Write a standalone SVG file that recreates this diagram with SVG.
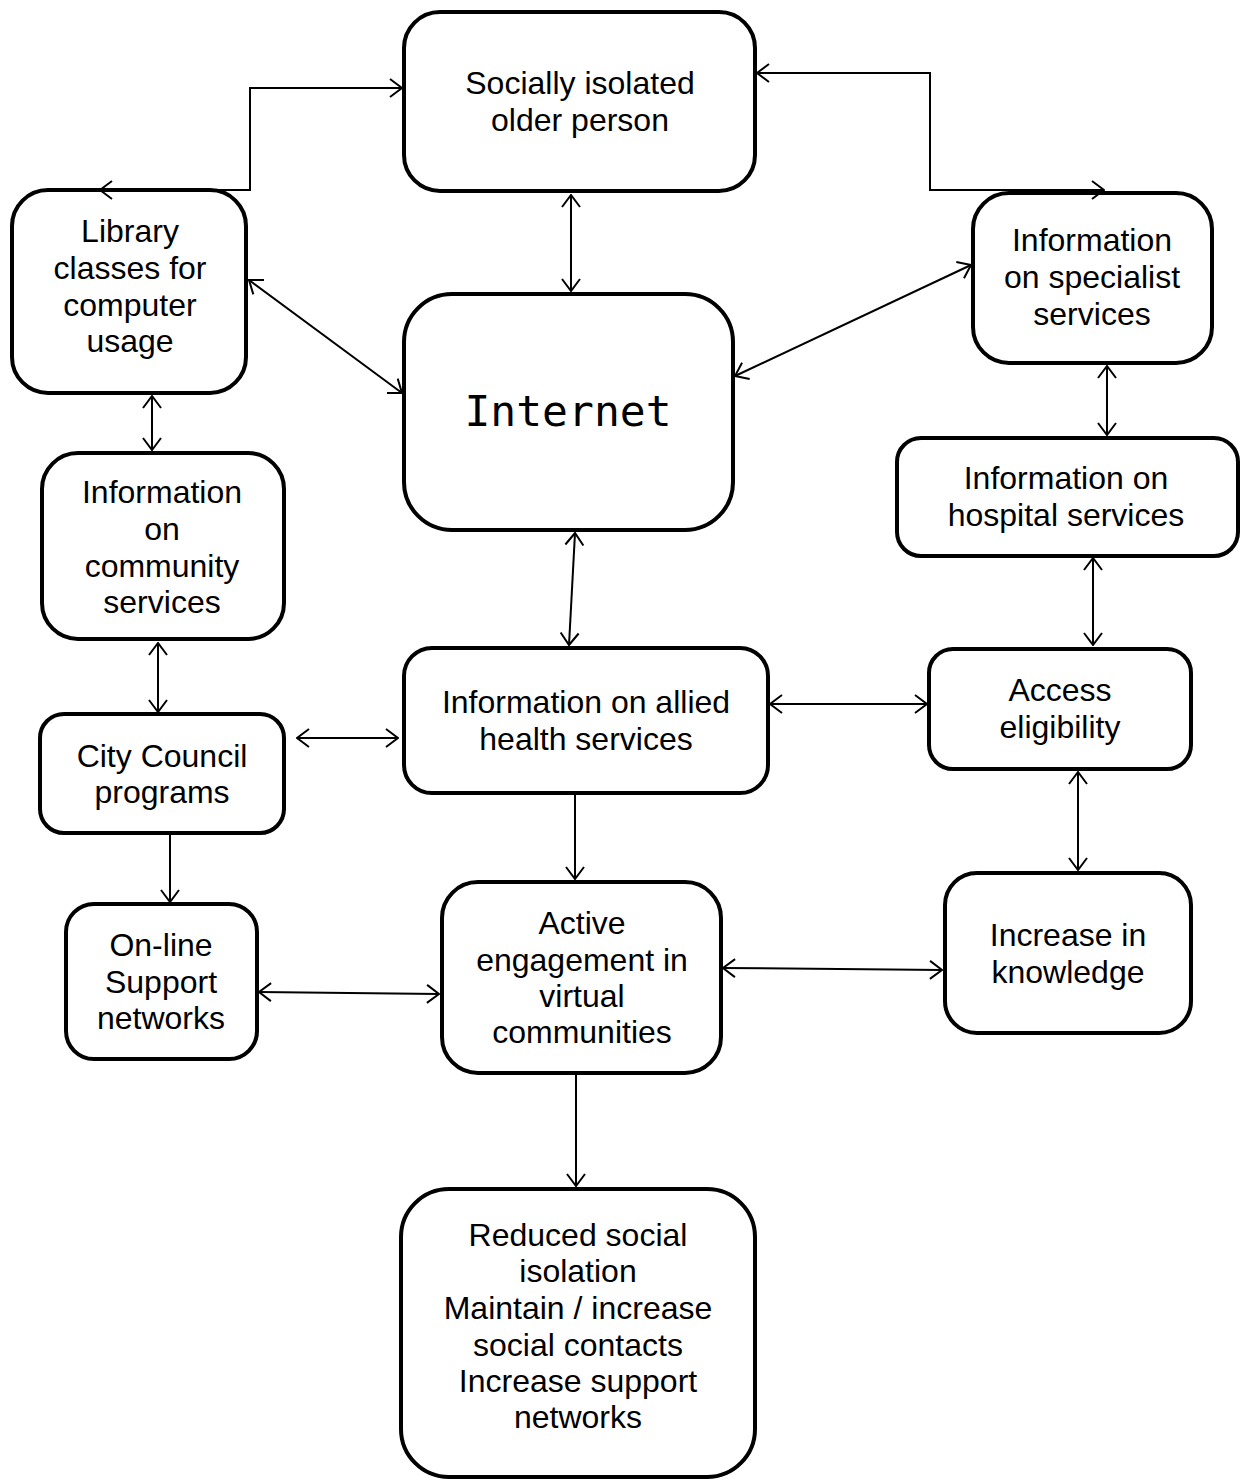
<svg xmlns="http://www.w3.org/2000/svg" width="1246" height="1481" viewBox="0 0 1246 1481">
  <style>
    .box { fill: #ffffff; stroke: #000000; stroke-width: 4; }
    .lbl { font-family: "Liberation Sans", Arial, sans-serif; font-size: 32px; fill: #000000; text-anchor: middle; }
    .mono { font-family: "DejaVu Sans Mono", "Liberation Mono", monospace; font-size: 43px; fill: #000000; text-anchor: middle; }
    .edge { fill: none; stroke: #000000; stroke-width: 2; }
    .both { marker-start: url(#tail); marker-end: url(#head); }
    .one { marker-end: url(#head); }
  </style>
  <defs>
    <marker id="head" viewBox="0 0 14 20" refX="13" refY="10" markerWidth="14" markerHeight="20" markerUnits="userSpaceOnUse" orient="auto">
      <path d="M1,1 L13,10 L1,19" fill="none" stroke="#000" stroke-width="2"/>
    </marker>
    <marker id="tail" viewBox="0 0 14 20" refX="1" refY="10" markerWidth="14" markerHeight="20" markerUnits="userSpaceOnUse" orient="auto">
      <path d="M13,1 L1,10 L13,19" fill="none" stroke="#000" stroke-width="2"/>
    </marker>
  </defs>
  <rect width="1246" height="1481" fill="#ffffff"/>

  <g id="socially-isolated">
    <rect class="box" x="404" y="12" width="351" height="179" rx="36"/>
    <text class="lbl" x="580" y="94">Socially isolated</text>
    <text class="lbl" x="580" y="131">older person</text>
  </g>

  <g id="library-classes">
    <rect class="box" x="12" y="190" width="234" height="203" rx="36"/>
    <text class="lbl" x="130" y="242">Library</text>
    <text class="lbl" x="130" y="279">classes for</text>
    <text class="lbl" x="130" y="316">computer</text>
    <text class="lbl" x="130" y="352">usage</text>
  </g>

  <g id="internet">
    <rect class="box" x="404" y="294" width="329" height="236" rx="48"/>
    <text class="mono" x="568" y="426">Internet</text>
  </g>

  <g id="specialist-services">
    <rect class="box" x="973" y="193" width="239" height="170" rx="36"/>
    <text class="lbl" x="1092" y="251">Information</text>
    <text class="lbl" x="1092" y="288">on specialist</text>
    <text class="lbl" x="1092" y="325">services</text>
  </g>

  <g id="community-services">
    <rect class="box" x="42" y="453" width="242" height="186" rx="36"/>
    <text class="lbl" x="162" y="503">Information</text>
    <text class="lbl" x="162" y="540">on</text>
    <text class="lbl" x="162" y="577">community</text>
    <text class="lbl" x="162" y="613">services</text>
  </g>

  <g id="hospital-services">
    <rect class="box" x="897" y="438" width="341" height="118" rx="24"/>
    <text class="lbl" x="1066" y="489">Information on</text>
    <text class="lbl" x="1066" y="526">hospital services</text>
  </g>

  <g id="allied-health">
    <rect class="box" x="404" y="648" width="364" height="145" rx="28"/>
    <text class="lbl" x="586" y="713">Information on allied</text>
    <text class="lbl" x="586" y="750">health services</text>
  </g>

  <g id="access-eligibility">
    <rect class="box" x="929" y="649" width="262" height="120" rx="24"/>
    <text class="lbl" x="1060" y="701">Access</text>
    <text class="lbl" x="1060" y="738">eligibility</text>
  </g>

  <g id="city-council">
    <rect class="box" x="40" y="714" width="244" height="119" rx="24"/>
    <text class="lbl" x="162" y="767">City Council</text>
    <text class="lbl" x="162" y="803">programs</text>
  </g>

  <g id="online-support">
    <rect class="box" x="66" y="904" width="191" height="155" rx="28"/>
    <text class="lbl" x="161" y="956">On-line</text>
    <text class="lbl" x="161" y="993">Support</text>
    <text class="lbl" x="161" y="1029">networks</text>
  </g>

  <g id="active-engagement">
    <rect class="box" x="442" y="882" width="279" height="191" rx="36"/>
    <text class="lbl" x="582" y="934">Active</text>
    <text class="lbl" x="582" y="971">engagement in</text>
    <text class="lbl" x="582" y="1007">virtual</text>
    <text class="lbl" x="582" y="1043">communities</text>
  </g>

  <g id="increase-knowledge">
    <rect class="box" x="945" y="873" width="246" height="160" rx="32"/>
    <text class="lbl" x="1068" y="946">Increase in</text>
    <text class="lbl" x="1068" y="983">knowledge</text>
  </g>

  <g id="reduced-isolation">
    <rect class="box" x="401" y="1189" width="354" height="288" rx="48"/>
    <text class="lbl" x="578" y="1246">Reduced social</text>
    <text class="lbl" x="578" y="1282">isolation</text>
    <text class="lbl" x="578" y="1319">Maintain / increase</text>
    <text class="lbl" x="578" y="1356">social contacts</text>
    <text class="lbl" x="578" y="1392">Increase support</text>
    <text class="lbl" x="578" y="1428">networks</text>
  </g>

  <!-- connectors drawn last so the elbow lines sit over the box edges -->
  <g id="connectors">
    <path class="edge both" d="M100,190 H250 V88 H402"/>
    <path class="edge both" d="M757,73 H930 V190 H1104"/>
    <path class="edge both" d="M571,195 V291"/>
    <path class="edge both" d="M249,280 L402,393"/>
    <path class="edge both" d="M735,376 L971,265"/>
    <path class="edge both" d="M152,396 V450"/>
    <path class="edge both" d="M1107,366 V435"/>
    <path class="edge both" d="M575,533 L569,645"/>
    <path class="edge both" d="M1093,558 V645"/>
    <path class="edge both" d="M158,643 V712"/>
    <path class="edge both" d="M297,738 H398"/>
    <path class="edge both" d="M770,704 H927"/>
    <path class="edge both" d="M1078,772 V870"/>
    <path class="edge one" d="M575,795 V879"/>
    <path class="edge one" d="M170,834 V902"/>
    <path class="edge both" d="M259,992 L439,994"/>
    <path class="edge both" d="M723,968 L942,970"/>
    <path class="edge one" d="M576,1075 V1186"/>
  </g>
</svg>
